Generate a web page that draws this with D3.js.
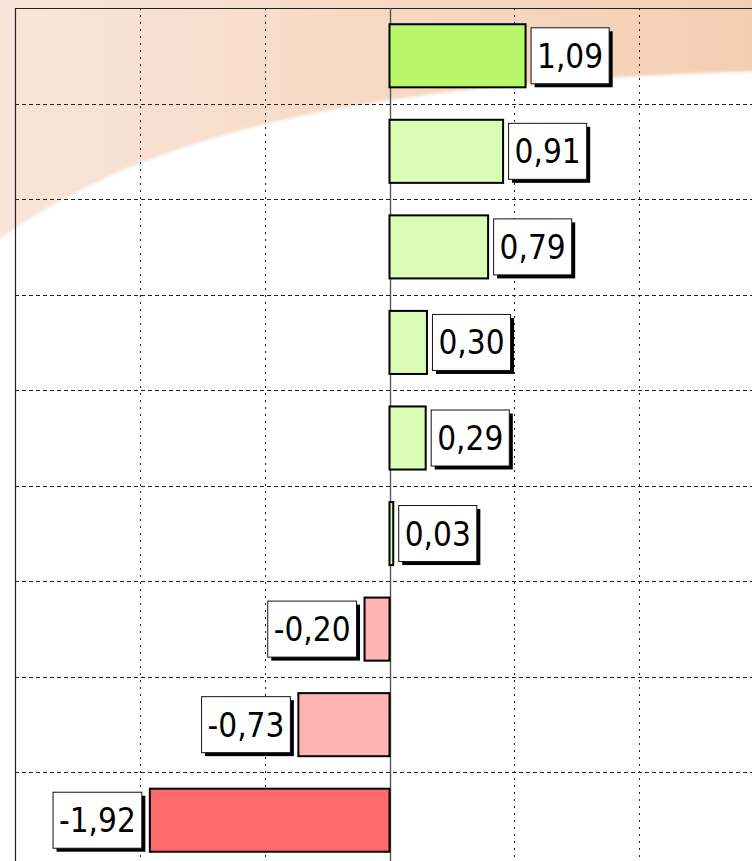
<!DOCTYPE html>
<html>
<head>
<meta charset="utf-8">
<script src="https://cdn.jsdelivr.net/npm/d3@7/dist/d3.min.js"></script>
<style>
  html, body { margin: 0; padding: 0; background: #fff; overflow: hidden; }
  svg { display: block; }
  .lbl { font-family: "DejaVu Sans Condensed", "DejaVu Sans", sans-serif; font-stretch: condensed; font-size: 33px; fill: #000; }
</style>
</head>
<body>
<svg id="chart" width="752" height="861"></svg>
<script>
// Rows, top to bottom
const rows = ["r1", "r2", "r3", "r4", "r5", "r6", "r7", "r8", "r9"];
const values = [1.09, 0.91, 0.79, 0.30, 0.29, 0.03, -0.20, -0.73, -1.92];
const xTicks = [-2, -1, 0, 1, 2];

const W = 752, H = 861;
const plot = { left: 15, right: 764, top: 8, bottom: 868 };

const svg = d3.select("#chart");
const defs = svg.append("defs");

// Peach backdrop with a white sweep across it
const grad = defs.append("linearGradient").attr("id", "peach")
  .attr("x1", "0").attr("y1", "0").attr("x2", "1").attr("y2", "0");
grad.append("stop").attr("offset", "0").attr("stop-color", "#f8e5d9");
grad.append("stop").attr("offset", "1").attr("stop-color", "#f4ceb1");

defs.append("filter").attr("id", "soft")
  .attr("x", "-5%").attr("y", "-5%").attr("width", "110%").attr("height", "110%")
  .append("feGaussianBlur").attr("stdDeviation", 1.5);

svg.append("rect").attr("width", W).attr("height", H).attr("fill", "url(#peach)");
svg.append("path")
  .attr("d", "M-10,246 C130,142 330,82 770,71 L770,880 L-10,880 Z")
  .attr("fill", "#ffffff")
  .attr("filter", "url(#soft)");

const x = d3.scaleLinear().domain([-3, 3]).range([plot.left, plot.right]);
const y = d3.scaleBand().domain(rows).range([plot.top, plot.bottom])
  .paddingInner(0.34).paddingOuter(0.17);
const step = y.step();

// Grid: row separators (dashed) and value ticks (dotted)
const grid = svg.append("g");
grid.selectAll("line.h").data(rows.slice(1)).join("line")
  .attr("class", "h")
  .attr("x1", plot.left).attr("x2", W)
  .attr("y1", d => Math.round(y(d) - step * 0.17) + 0.5)
  .attr("y2", d => Math.round(y(d) - step * 0.17) + 0.5)
  .attr("stroke", "#222").attr("stroke-width", 1).attr("stroke-dasharray", "4,3");
grid.selectAll("line.v").data(xTicks.filter(t => t !== 0)).join("line")
  .attr("class", "v")
  .attr("x1", d => Math.round(x(d)) + 0.5).attr("x2", d => Math.round(x(d)) + 0.5)
  .attr("y1", plot.top).attr("y2", H)
  .attr("stroke", "#222").attr("stroke-width", 1).attr("stroke-dasharray", "2,5");

// Frame: top and left edges, zero line
svg.append("line").attr("x1", plot.left).attr("x2", W)
  .attr("y1", plot.top + 0.5).attr("y2", plot.top + 0.5)
  .attr("stroke", "#222").attr("stroke-width", 1.2);
svg.append("line").attr("x1", plot.left + 0.5).attr("x2", plot.left + 0.5)
  .attr("y1", plot.top).attr("y2", H)
  .attr("stroke", "#222").attr("stroke-width", 1.2);
svg.append("line").attr("x1", Math.round(x(0)) + 0.5).attr("x2", Math.round(x(0)) + 0.5)
  .attr("y1", plot.top).attr("y2", H)
  .attr("stroke", "#555").attr("stroke-width", 1.4);

function barColor(v) {
  if (v >= 1) return "#b8f76a";
  if (v >= 0) return "#dafcb5";
  if (v > -1) return "#ffb3b3";
  return "#ff6b6b";
}

const data = rows.map((r, i) => ({ row: r, value: values[i] }));

// Bars
svg.append("g").selectAll("rect").data(data).join("rect")
  .attr("x", d => x(Math.min(0, d.value)))
  .attr("y", d => y(d.row))
  .attr("width", d => Math.abs(x(d.value) - x(0)))
  .attr("height", y.bandwidth())
  .attr("fill", d => barColor(d.value))
  .attr("stroke", "#000").attr("stroke-width", 2);

// Value tags: white box with a drop shadow
const fmt = v => d3.format(".2f")(v).replace("−", "-").replace(".", ",");
const tags = svg.append("g").selectAll("g").data(data).join("g");
tags.each(function (d) {
  const g = d3.select(this);
  const shadow = g.append("rect").attr("fill", "#000");
  const box = g.append("rect").attr("fill", "#fff").attr("stroke", "#111").attr("stroke-width", 1);
  const t = g.append("text").attr("class", "lbl").text(fmt(d.value));
  const tw = t.node().getComputedTextLength();
  const bw = tw + 12, bh = 56;
  const cy = y(d.row) + y.bandwidth() / 2;
  const bx = d.value >= 0 ? x(d.value) + 5.5 : x(d.value) - 8 - bw;
  const by = cy - bh / 2;
  shadow.attr("x", bx + 3.5).attr("y", by + 3.5).attr("width", bw).attr("height", bh);
  box.attr("x", bx).attr("y", by).attr("width", bw).attr("height", bh);
  t.attr("x", bx + 6).attr("y", cy + 12);
});
</script>
</body>
</html>
